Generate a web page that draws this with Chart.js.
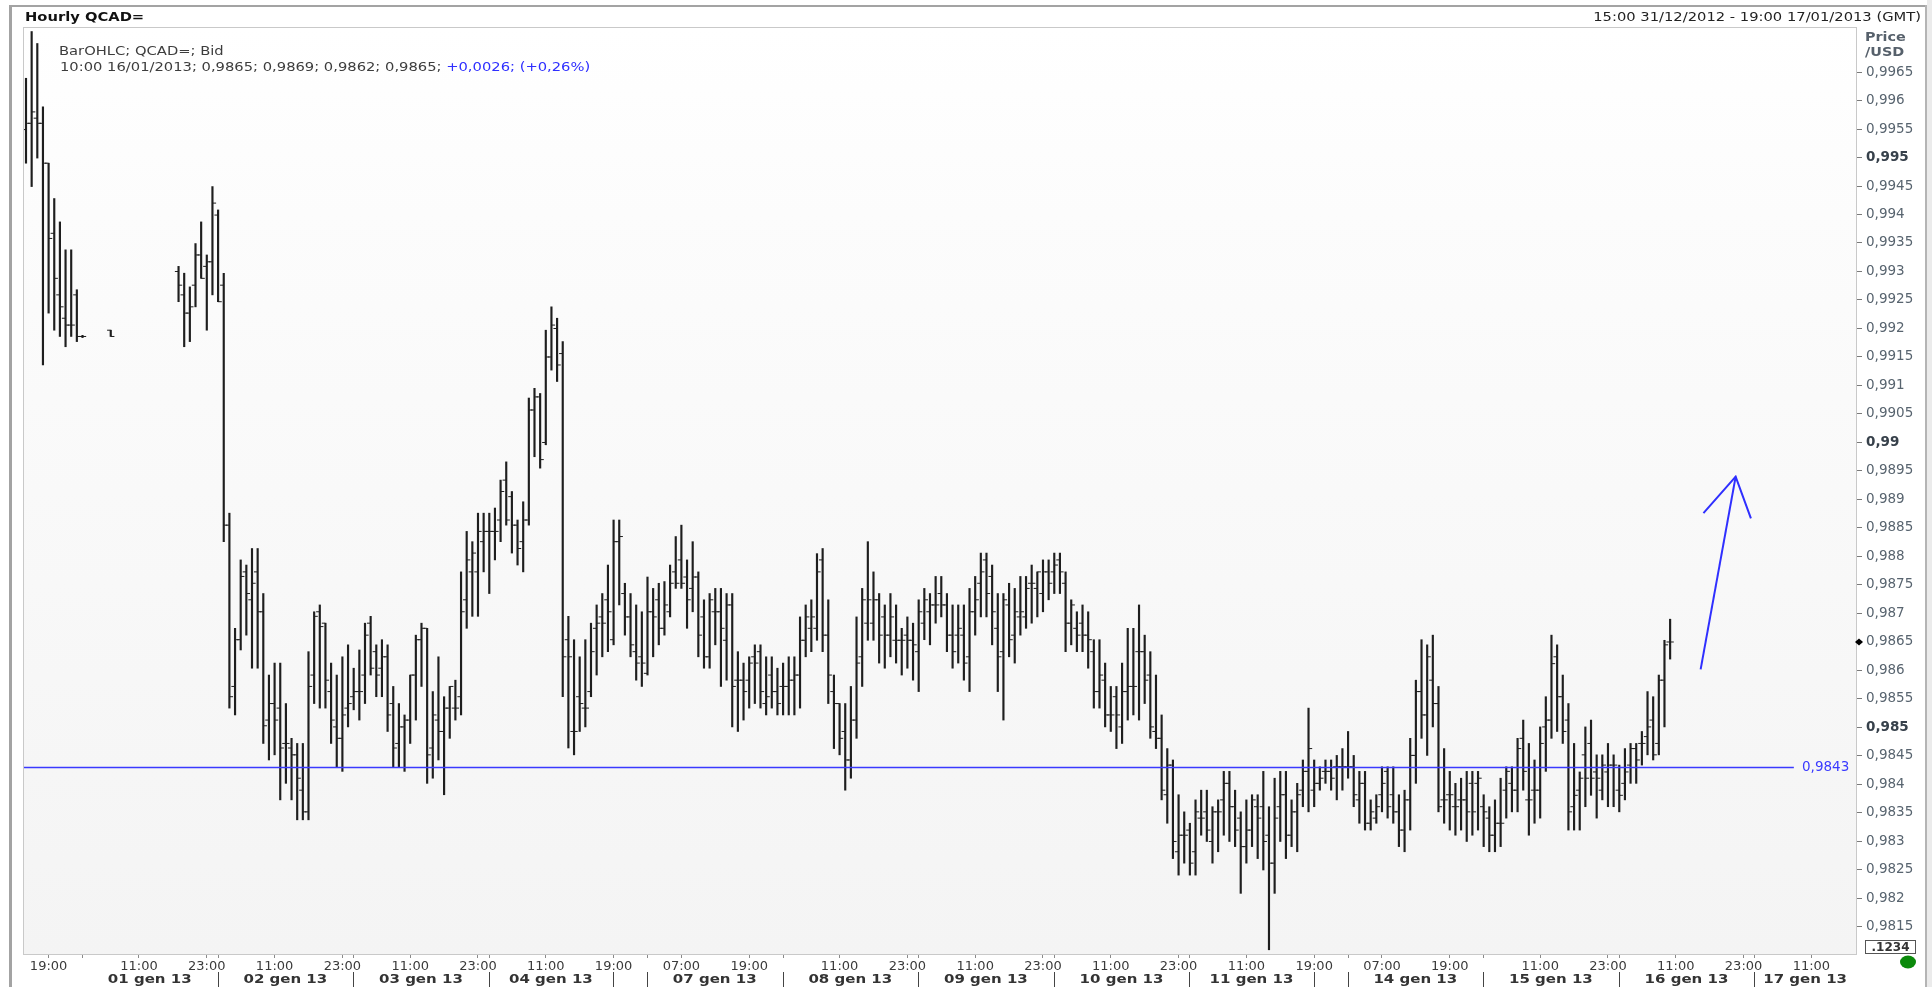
<!DOCTYPE html>
<html lang="it">
<head>
<meta charset="UTF-8">
<title>Hourly QCAD=</title>
<script src="https://cdn.jsdelivr.net/npm/chart.js@4.4.1/dist/chart.umd.min.js"></script>
<style>
  html, body { margin: 0; padding: 0; background: #fff; overflow: hidden; }
  canvas { display: block; }
</style>
</head>
<body>
<canvas id="chart" width="1932" height="987"></canvas>
<script>
// hourly bars: index = hour slot counted from 15:00 31/12/2012 (weekend hours left out), null = no quote
const open = [
  0.99549, 0.99560, 0.99569, 0.99560, 0.99490, 0.99367, 0.99259, 0.99218, 0.99206, 0.99259,
  0.99186, null, null, null, null, 0.99197, null, null, null, null,
  null, null, null, null, null, null, null, 0.99300, 0.99259, 0.99227,
  0.99276, 0.99329, 0.99309, 0.99317, 0.99399, 0.99276, 0.98855, 0.98572, 0.98654, 0.98773,
  0.98724, 0.98773, 0.98703, 0.98513, 0.98542, 0.98534, 0.98472, 0.98464, 0.98452, 0.98390,
  0.98352, 0.98592, 0.98703, 0.98683, 0.98563, 0.98501, 0.98481, 0.98534, 0.98554, 0.98563,
  0.98592, 0.98683, 0.98633, 0.98604, 0.98624, 0.98542, 0.98472, 0.98501, 0.98513, 0.98592,
  0.98654, 0.98674, 0.98464, 0.98513, 0.98493, 0.98534, 0.98534, 0.98554, 0.98724, 0.98773,
  0.98773, 0.98826, 0.98844, 0.98844, 0.98864, 0.98934, 0.98905, 0.98855, 0.98826, 0.98864,
  0.99057, 0.99080, 0.99000, 0.99150, 0.99200, 0.99156, 0.98654, 0.98493, 0.98554, 0.98534,
  0.98563, 0.98674, 0.98694, 0.98724, 0.98654, 0.98826, 0.98735, 0.98694, 0.98633, 0.98624,
  0.98595, 0.98703, 0.98724, 0.98674, 0.98703, 0.98773, 0.98794, 0.98764, 0.98744, 0.98764,
  0.98694, 0.98624, 0.98703, 0.98703, 0.98653, 0.98715, 0.98583, 0.98583, 0.98583, 0.98624,
  0.98633, 0.98542, 0.98592, 0.98563, 0.98572, 0.98572, 0.98583, 0.98592, 0.98653, 0.98674,
  0.98674, 0.98794, 0.98662, 0.98563, 0.98542, 0.98493, 0.98443, 0.98513, 0.98624, 0.98683,
  0.98683, 0.98724, 0.98694, 0.98662, 0.98653, 0.98653, 0.98662, 0.98653, 0.98633, 0.98683,
  0.98703, 0.98715, 0.98735, 0.98715, 0.98662, 0.98662, 0.98662, 0.98624, 0.98703, 0.98753,
  0.98794, 0.98765, 0.98674, 0.98633, 0.98715, 0.98662, 0.98694, 0.98694, 0.98753, 0.98744,
  0.98735, 0.98773, 0.98773, 0.98794, 0.98753, 0.98683, 0.98674, 0.98683, 0.98662, 0.98633,
  0.98563, 0.98583, 0.98522, 0.98554, 0.98501, 0.98563, 0.98572, 0.98633, 0.98633, 0.98592,
  0.98493, 0.98481, 0.98382, 0.98434, 0.98282, 0.98311, 0.98320, 0.98282, 0.98341, 0.98352,
  0.98300, 0.98352, 0.98373, 0.98402, 0.98361, 0.98341, 0.98291, 0.98320, 0.98361, 0.98361,
  0.98311, 0.98262, 0.98361, 0.98382, 0.98311, 0.98352, 0.98390, 0.98423, 0.98390, 0.98402,
  0.98423, 0.98423, 0.98431, 0.98431, 0.98431, 0.98431, 0.98373, 0.98402, 0.98332, 0.98341,
  0.98382, 0.98423, 0.98382, 0.98352, 0.98320, 0.98373, 0.98451, 0.98563, 0.98522, 0.98583,
  0.98542, 0.98373, 0.98382, 0.98361, 0.98373, 0.98373, 0.98402, 0.98402, 0.98361, 0.98341,
  0.98311, 0.98332, 0.98390, 0.98402, 0.98390, 0.98481, 0.98373, 0.98390, 0.98390, 0.98501,
  0.98513, 0.98624, 0.98554, 0.98513, 0.98361, 0.98390, 0.98452, 0.98472, 0.98422, 0.98390,
  0.98422, 0.98434, 0.98390, 0.98402, 0.98434, 0.98463, 0.98472, 0.98484, 0.98513, 0.98472,
  0.98583, 0.9865
];
const high = [
  0.99639, 0.99721, 0.99700, 0.99589, 0.99490, 0.99428, 0.99387, 0.99338, 0.99338, 0.99268,
  0.99188, null, null, null, null, 0.99197, null, null, null, null,
  null, null, null, null, null, null, null, 0.99309, 0.99297, 0.99273,
  0.99349, 0.99387, 0.99329, 0.99449, 0.99408, 0.99297, 0.98876, 0.98674, 0.98794, 0.98785,
  0.98814, 0.98814, 0.98735, 0.98592, 0.98613, 0.98613, 0.98542, 0.98481, 0.98472, 0.98472,
  0.98633, 0.98703, 0.98715, 0.98683, 0.98613, 0.98592, 0.98624, 0.98645, 0.98604, 0.98636,
  0.98683, 0.98695, 0.98645, 0.98654, 0.98645, 0.98572, 0.98542, 0.98522, 0.98592, 0.98662,
  0.98683, 0.98674, 0.98563, 0.98624, 0.98554, 0.98572, 0.98583, 0.98773, 0.98844, 0.98826,
  0.98876, 0.98876, 0.98876, 0.98885, 0.98934, 0.98966, 0.98914, 0.98864, 0.98896, 0.99078,
  0.99095, 0.99086, 0.99197, 0.99238, 0.99218, 0.99177, 0.98695, 0.98654, 0.98624, 0.98654,
  0.98683, 0.98715, 0.98735, 0.98785, 0.98864, 0.98864, 0.98753, 0.98735, 0.98715, 0.98703,
  0.98764, 0.98744, 0.98753, 0.98756, 0.98785, 0.98835, 0.98855, 0.98794, 0.98826, 0.98773,
  0.98724, 0.98735, 0.98744, 0.98744, 0.98735, 0.98735, 0.98633, 0.98613, 0.98624, 0.98645,
  0.98645, 0.98624, 0.98624, 0.98604, 0.98613, 0.98624, 0.98624, 0.98694, 0.98715, 0.98724,
  0.98805, 0.98814, 0.98724, 0.98592, 0.98542, 0.98542, 0.98572, 0.98694, 0.98744, 0.98826,
  0.98773, 0.98735, 0.98715, 0.98735, 0.98715, 0.98674, 0.98694, 0.98683, 0.98724, 0.98744,
  0.98735, 0.98765, 0.98765, 0.98735, 0.98715, 0.98715, 0.98715, 0.98744, 0.98765, 0.98806,
  0.98806, 0.98785, 0.98735, 0.98735, 0.98753, 0.98744, 0.98765, 0.98765, 0.98785, 0.98773,
  0.98794, 0.98794, 0.98806, 0.98806, 0.98773, 0.98724, 0.98703, 0.98715, 0.98703, 0.98654,
  0.98654, 0.98613, 0.98572, 0.98572, 0.98613, 0.98674, 0.98674, 0.98715, 0.98662, 0.98633,
  0.98592, 0.98522, 0.98463, 0.98443, 0.98382, 0.98352, 0.98332, 0.98373, 0.98390, 0.98390,
  0.98361, 0.98373, 0.98423, 0.98423, 0.98390, 0.98352, 0.98373, 0.98382, 0.98382, 0.98423,
  0.98361, 0.98411, 0.98423, 0.98423, 0.98373, 0.98402, 0.98443, 0.98534, 0.98443, 0.98431,
  0.98443, 0.98443, 0.98451, 0.98463, 0.98493, 0.98451, 0.98423, 0.98423, 0.98373, 0.98382,
  0.98431, 0.98431, 0.98431, 0.98382, 0.98390, 0.98481, 0.98583, 0.98654, 0.98645, 0.98662,
  0.98572, 0.98463, 0.98423, 0.98402, 0.98411, 0.98423, 0.98423, 0.98423, 0.98382, 0.98361,
  0.98373, 0.98411, 0.98431, 0.98431, 0.98481, 0.98513, 0.98472, 0.98443, 0.98501, 0.98554,
  0.98662, 0.98645, 0.98592, 0.98542, 0.98472, 0.98422, 0.98501, 0.98513, 0.98452, 0.98452,
  0.98472, 0.98452, 0.98434, 0.98463, 0.98472, 0.98472, 0.98493, 0.98563, 0.98554, 0.98592,
  0.98653, 0.9869
];
const low = [
  0.99490, 0.99449, 0.99499, 0.99136, 0.99227, 0.99197, 0.99186, 0.99168, 0.99186, 0.99177,
  0.99184, null, null, null, null, 0.99186, null, null, null, null,
  null, null, null, null, null, null, null, 0.99247, 0.99168, 0.99177,
  0.99238, 0.99288, 0.99197, 0.99259, 0.99247, 0.98826, 0.98534, 0.98522, 0.98636, 0.98662,
  0.98604, 0.98604, 0.98472, 0.98443, 0.98452, 0.98373, 0.98402, 0.98373, 0.98338, 0.98338,
  0.98338, 0.98542, 0.98534, 0.98534, 0.98472, 0.98431, 0.98423, 0.98501, 0.98531, 0.98513,
  0.98542, 0.98592, 0.98554, 0.98554, 0.98493, 0.98431, 0.98431, 0.98423, 0.98472, 0.98513,
  0.98572, 0.98402, 0.98411, 0.98443, 0.98382, 0.98481, 0.98513, 0.98522, 0.98674, 0.98695,
  0.98695, 0.98773, 0.98735, 0.98794, 0.98826, 0.98855, 0.98806, 0.98785, 0.98773, 0.98855,
  0.98975, 0.98955, 0.98996, 0.99127, 0.99107, 0.98554, 0.98464, 0.98452, 0.98493, 0.98501,
  0.98554, 0.98592, 0.98624, 0.98633, 0.98645, 0.98715, 0.98662, 0.98624, 0.98583, 0.98572,
  0.98592, 0.98624, 0.98645, 0.98662, 0.98694, 0.98744, 0.98744, 0.98674, 0.98703, 0.98624,
  0.98604, 0.98604, 0.98645, 0.98572, 0.98583, 0.98501, 0.98493, 0.98513, 0.98534, 0.98542,
  0.98534, 0.98522, 0.98534, 0.98522, 0.98522, 0.98522, 0.98522, 0.98534, 0.98624, 0.98633,
  0.98653, 0.98633, 0.98542, 0.98463, 0.98452, 0.98390, 0.98411, 0.98481, 0.98572, 0.98653,
  0.98653, 0.98613, 0.98604, 0.98624, 0.98613, 0.98592, 0.98604, 0.98583, 0.98563, 0.98654,
  0.98645, 0.98683, 0.98694, 0.98633, 0.98604, 0.98613, 0.98583, 0.98563, 0.98662, 0.98694,
  0.98694, 0.98645, 0.98563, 0.98513, 0.98624, 0.98613, 0.98662, 0.98674, 0.98683, 0.98694,
  0.98703, 0.98724, 0.98735, 0.98735, 0.98633, 0.98645, 0.98633, 0.98633, 0.98604, 0.98534,
  0.98534, 0.98501, 0.98493, 0.98463, 0.98472, 0.98513, 0.98522, 0.98513, 0.98542, 0.98481,
  0.98463, 0.98373, 0.98332, 0.98270, 0.98241, 0.98262, 0.98241, 0.98241, 0.98311, 0.98300,
  0.98262, 0.98282, 0.98311, 0.98300, 0.98291, 0.98209, 0.98262, 0.98291, 0.98270, 0.98250,
  0.98110, 0.98209, 0.98300, 0.98270, 0.98291, 0.98282, 0.98361, 0.98352, 0.98361, 0.98390,
  0.98402, 0.98390, 0.98373, 0.98390, 0.98411, 0.98361, 0.98332, 0.98320, 0.98320, 0.98332,
  0.98352, 0.98341, 0.98332, 0.98291, 0.98282, 0.98320, 0.98402, 0.98481, 0.98451, 0.98501,
  0.98352, 0.98332, 0.98320, 0.98311, 0.98320, 0.98300, 0.98311, 0.98320, 0.98291, 0.98282,
  0.98282, 0.98291, 0.98341, 0.98352, 0.98352, 0.98390, 0.98311, 0.98332, 0.98341, 0.98423,
  0.98481, 0.98493, 0.98472, 0.98320, 0.98320, 0.98320, 0.98361, 0.98381, 0.98341, 0.98373,
  0.98361, 0.98361, 0.98352, 0.98373, 0.98402, 0.98402, 0.98434, 0.98452, 0.98443, 0.98452,
  0.98501, 0.9862
];
const close = [
  0.99560, 0.99580, 0.99560, 0.99490, 0.99358, 0.99288, 0.99238, 0.99206, 0.99206, 0.99186,
  0.99186, null, null, null, null, 0.99186, null, null, null, null,
  null, null, null, null, null, null, null, 0.99276, 0.99227, 0.99238,
  0.99329, 0.99288, 0.99317, 0.99420, 0.99247, 0.98855, 0.98554, 0.98654, 0.98765, 0.98735,
  0.98753, 0.98703, 0.98503, 0.98542, 0.98513, 0.98464, 0.98472, 0.98452, 0.98411, 0.98352,
  0.98572, 0.98695, 0.98677, 0.98583, 0.98513, 0.98481, 0.98522, 0.98542, 0.98563, 0.98563,
  0.98662, 0.98604, 0.98592, 0.98624, 0.98522, 0.98464, 0.98501, 0.98513, 0.98592, 0.98654,
  0.98674, 0.98452, 0.98522, 0.98493, 0.98534, 0.98572, 0.98534, 0.98703, 0.98794, 0.98806,
  0.98844, 0.98844, 0.98844, 0.98844, 0.98914, 0.98864, 0.98855, 0.98814, 0.98864, 0.99057,
  0.99080, 0.98970, 0.99150, 0.99206, 0.99136, 0.98624, 0.98624, 0.98493, 0.98542, 0.98534,
  0.98633, 0.98683, 0.98683, 0.98703, 0.98826, 0.98835, 0.98694, 0.98645, 0.98613, 0.98613,
  0.98703, 0.98694, 0.98674, 0.98715, 0.98753, 0.98753, 0.98753, 0.98724, 0.98764, 0.98662,
  0.98624, 0.98724, 0.98703, 0.98674, 0.98715, 0.98572, 0.98583, 0.98563, 0.98613, 0.98613,
  0.98563, 0.98554, 0.98563, 0.98542, 0.98572, 0.98583, 0.98592, 0.98653, 0.98694, 0.98694,
  0.98773, 0.98662, 0.98592, 0.98542, 0.98481, 0.98443, 0.98513, 0.98613, 0.98724, 0.98724,
  0.98724, 0.98662, 0.98662, 0.98694, 0.98653, 0.98653, 0.98653, 0.98645, 0.98703, 0.98724,
  0.98715, 0.98715, 0.98715, 0.98662, 0.98633, 0.98674, 0.98613, 0.98703, 0.98724, 0.98773,
  0.98735, 0.98703, 0.98624, 0.98724, 0.98654, 0.98703, 0.98703, 0.98744, 0.98753, 0.98773,
  0.98773, 0.98753, 0.98785, 0.98773, 0.98683, 0.98715, 0.98662, 0.98662, 0.98654, 0.98563,
  0.98592, 0.98522, 0.98522, 0.98522, 0.98563, 0.98572, 0.98572, 0.98633, 0.98583, 0.98501,
  0.98481, 0.98390, 0.98434, 0.98300, 0.98311, 0.98311, 0.98262, 0.98352, 0.98341, 0.98320,
  0.98352, 0.98352, 0.98402, 0.98361, 0.98320, 0.98291, 0.98320, 0.98373, 0.98341, 0.98300,
  0.98262, 0.98341, 0.98382, 0.98311, 0.98352, 0.98382, 0.98423, 0.98463, 0.98402, 0.98411,
  0.98423, 0.98411, 0.98431, 0.98431, 0.98431, 0.98382, 0.98402, 0.98332, 0.98352, 0.98361,
  0.98402, 0.98361, 0.98352, 0.98320, 0.98373, 0.98451, 0.98563, 0.98522, 0.98624, 0.98542,
  0.98361, 0.98373, 0.98382, 0.98361, 0.98373, 0.98352, 0.98352, 0.98411, 0.98352, 0.98311,
  0.98332, 0.98332, 0.98423, 0.98390, 0.98463, 0.98423, 0.98373, 0.98390, 0.98472, 0.98513,
  0.98612, 0.98554, 0.98493, 0.98352, 0.98381, 0.98411, 0.98411, 0.98411, 0.98411, 0.98434,
  0.98434, 0.98434, 0.98381, 0.98422, 0.98463, 0.98443, 0.98472, 0.98501, 0.98452, 0.98583,
  0.98645, 0.9865
];

// time axis labels, placed on hour slots
const timeTickSlots = [4, 20, 32, 44, 56, 68, 80, 92, 104, 116, 128, 144, 156, 168, 180, 192, 204, 216, 228, 240, 252, 268, 280, 292, 304, 316];
const timeTickLabels = ['19:00', '11:00', '23:00', '11:00', '23:00', '11:00', '23:00', '11:00', '19:00', '07:00', '19:00', '11:00', '23:00',
  '11:00', '23:00', '11:00', '23:00', '11:00', '19:00', '07:00', '19:00', '11:00', '23:00', '11:00', '23:00', '11:00'];

// trading days on the axis (slot where each day starts / ends)
const dayLabels = ['01 gen 13', '02 gen 13', '03 gen 13', '04 gen 13', '07 gen 13', '08 gen 13', '09 gen 13',
  '10 gen 13', '11 gen 13', '14 gen 13', '15 gen 13', '16 gen 13', '17 gen 13'];
const dayStart = [9.9, 33.9, 57.9, 81.9, 109.9, 133.9, 157.9, 181.9, 205.9, 233.9, 257.9, 281.9, 305.9];
const dayEnd = [33.9, 57.9, 81.9, 103.9, 133.9, 157.9, 181.9, 205.9, 227.9, 257.9, 281.9, 305.9, 323.9];

const priceTicks = [0.9815, 0.982, 0.9825, 0.983, 0.9835, 0.984, 0.9845, 0.985, 0.9855, 0.986, 0.9865,
  0.987, 0.9875, 0.988, 0.9885, 0.989, 0.9895, 0.99, 0.9905, 0.991, 0.9915, 0.992, 0.9925, 0.993,
  0.9935, 0.994, 0.9945, 0.995, 0.9955, 0.996, 0.9965];
const boldPrices = [0.985, 0.99, 0.995];

const refLevel = 0.9843;
const refLevelEnd = 312.9;
const arrowShaft = [{ x: 296.4, y: 0.98602 }, { x: 302.6, y: 0.9894 }];
const arrowHead = [{ x: 296.9, y: 0.98876 }, { x: 302.6, y: 0.9894 }, { x: 305.3, y: 0.98867 }];

const lastBarTime = '10:00 16/01/2013';
const changeText = '+0,0026; (+0,26%)';

const xMin = -0.354, xMax = 323.9;
const yMin = 0.981026, yMax = 0.997272;
const FONT = '"DejaVu Sans"';

const fmtPrice = v => String(Number(v.toFixed(4))).replace('.', ',');
const isBold = v => boldPrices.some(b => Math.abs(b - v) < 1e-7);

const hlBars = [], openTicks = [], closeTicks = [];
for (let i = 0; i < high.length; i++) {
  if (high[i] == null) continue;
  hlBars.push({ x: i, y: [low[i], high[i]] });
  openTicks.push({ x: i - 0.33, y: open[i] });
  closeTicks.push({ x: i + 0.33, y: close[i] });
}

function stretchText(ctx, s, x, y, opt) {
  ctx.save();
  ctx.font = opt.font;
  ctx.fillStyle = opt.color;
  ctx.textBaseline = 'middle';
  ctx.textAlign = 'left';
  const sx = opt.sx || 1;
  const w = ctx.measureText(s).width * sx;
  let x0 = x;
  if (opt.align === 'right') x0 = x - w;
  else if (opt.align === 'center') x0 = x - w / 2;
  ctx.translate(x0, y);
  ctx.scale(sx, 1);
  ctx.fillText(s, 0, 0);
  ctx.restore();
  return w;
}

const decor = {
  id: 'decor',
  beforeDraw(chart) {
    const { ctx, chartArea: a } = chart;
    ctx.save();
    ctx.fillStyle = '#ffffff';
    ctx.fillRect(0, 0, chart.width, chart.height);
    ctx.fillStyle = '#ebebeb';
    ctx.fillRect(1927, 0, chart.width - 1927, chart.height);
    const g = ctx.createLinearGradient(0, a.top, 0, a.bottom);
    g.addColorStop(0, '#ffffff');
    g.addColorStop(0.2, '#fcfcfc');
    g.addColorStop(1, '#f4f4f4');
    ctx.fillStyle = g;
    ctx.fillRect(a.left, a.top, a.right - a.left, a.bottom - a.top);
    ctx.restore();
  },
  afterDraw(chart) {
    const { ctx, chartArea: a, scales: { x, y } } = chart;
    ctx.save();

    // window frame
    ctx.fillStyle = '#a3a3a3';
    ctx.fillRect(9, 5, 1918, 2);
    ctx.fillRect(9, 5, 3, chart.height - 5);
    ctx.fillStyle = '#b4b4b4';
    ctx.fillRect(1925, 5, 2, chart.height - 5);

    // plot border
    ctx.strokeStyle = '#c9c9c9';
    ctx.lineWidth = 1;
    ctx.strokeRect(a.left - 0.5, a.top - 0.5, a.right - a.left + 1, a.bottom - a.top + 1);

    // titles
    stretchText(ctx, 'Hourly QCAD=', 25, 18, { font: `bold 11.5px ${FONT}`, color: '#111', sx: 1.28 });
    stretchText(ctx, '15:00 31/12/2012 - 19:00 17/01/2013 (GMT)', 1921, 18,
      { font: `11.5px ${FONT}`, color: '#222', sx: 1.28, align: 'right' });

    // legend
    const last = close.length - 1;
    stretchText(ctx, 'BarOHLC; QCAD=; Bid', 59, 52, { font: `11.5px ${FONT}`, color: '#3d3d3d', sx: 1.28 });
    const ohlc = `${lastBarTime}; ${fmtPrice(open[last])}; ${fmtPrice(high[last])}; ${fmtPrice(low[last])}; ${fmtPrice(close[last])}; `;
    const w = stretchText(ctx, ohlc, 60, 68, { font: `11.5px ${FONT}`, color: '#3d3d3d', sx: 1.28 });
    stretchText(ctx, changeText, 60 + w, 68, { font: `11.5px ${FONT}`, color: '#2f2fff', sx: 1.28 });

    // price axis title
    stretchText(ctx, 'Price', 1865, 38, { font: `bold 11.5px ${FONT}`, color: '#56606b', sx: 1.25 });
    stretchText(ctx, '/USD', 1865, 53, { font: `bold 11.5px ${FONT}`, color: '#56606b', sx: 1.25 });

    // day boundaries, separators and date labels
    const bounds = [...new Set([...dayStart, ...dayEnd.slice(0, -1)])];
    ctx.strokeStyle = '#8a8a8a';
    bounds.forEach(b => {
      const px = Math.round(x.getPixelForValue(b)) + 0.5;
      ctx.beginPath(); ctx.moveTo(px, a.bottom + 1); ctx.lineTo(px, a.bottom + 4); ctx.stroke();
    });
    ctx.strokeStyle = '#444';
    bounds.filter(b => b > dayStart[0]).forEach(b => {
      const px = Math.round(x.getPixelForValue(b)) + 0.5;
      ctx.beginPath(); ctx.moveTo(px, 972); ctx.lineTo(px, chart.height); ctx.stroke();
    });
    dayLabels.forEach((lab, i) => {
      const cx = (x.getPixelForValue(dayStart[i]) + x.getPixelForValue(dayEnd[i])) / 2;
      stretchText(ctx, lab, cx, 980, { font: `bold 12px ${FONT}`, color: '#333', sx: 1.25, align: 'center' });
    });

    // last price marker
    const cy = y.getPixelForValue(close[last]);
    const cx = a.right + 3;
    ctx.fillStyle = '#000';
    ctx.beginPath();
    ctx.moveTo(cx - 4, cy); ctx.lineTo(cx, cy - 3.5); ctx.lineTo(cx + 4, cy); ctx.lineTo(cx, cy + 3.5);
    ctx.closePath(); ctx.fill();

    // reference level label
    stretchText(ctx, fmtPrice(refLevel), 1802, y.getPixelForValue(refLevel),
      { font: `13.5px ${FONT}`, color: '#3a3aff' });

    // small box and status dot
    ctx.strokeStyle = '#555';
    ctx.strokeRect(1865.5, 940.5, 50, 13);
    stretchText(ctx, '.1234', 1890.5, 947.5, { font: `bold 12px ${FONT}`, color: '#333', align: 'center' });
    ctx.fillStyle = '#0b8a0b';
    ctx.beginPath();
    ctx.ellipse(1908, 962, 8, 6.5, 0, 0, Math.PI * 2);
    ctx.fill();

    ctx.restore();
  }
};

new Chart(document.getElementById('chart'), {
  type: 'bar',
  data: {
    datasets: [
      {
        type: 'bar',
        data: hlBars,
        backgroundColor: '#1e1e1e',
        barThickness: 1.5,
        minBarLength: 1,
        order: 3
      },
      {
        type: 'scatter',
        data: openTicks,
        showLine: false,
        pointStyle: 'line',
        pointRadius: 1.8,
        pointHoverRadius: 0,
        borderColor: '#1e1e1e',
        pointBorderColor: '#1e1e1e',
        pointBorderWidth: 1,
        order: 2
      },
      {
        type: 'scatter',
        data: closeTicks,
        showLine: false,
        pointStyle: 'line',
        pointRadius: 1.8,
        pointHoverRadius: 0,
        borderColor: '#1e1e1e',
        pointBorderColor: '#1e1e1e',
        pointBorderWidth: 1,
        order: 2
      },
      {
        type: 'line',
        data: [{ x: xMin, y: refLevel }, { x: refLevelEnd, y: refLevel }],
        borderColor: '#3a3aff',
        borderWidth: 1.5,
        pointRadius: 0,
        fill: false,
        order: 1
      },
      {
        type: 'line',
        data: arrowShaft,
        borderColor: '#2f2fff',
        borderWidth: 2,
        pointRadius: 0,
        fill: false,
        order: 0
      },
      {
        type: 'line',
        data: arrowHead,
        borderColor: '#2f2fff',
        borderWidth: 2,
        pointRadius: 0,
        fill: false,
        order: 0
      }
    ]
  },
  options: {
    responsive: false,
    animation: false,
    devicePixelRatio: 1,
    events: [],
    layout: { padding: { left: 24, top: 28, right: 0, bottom: 0 } },
    plugins: { legend: { display: false }, tooltip: { enabled: false } },
    scales: {
      x: {
        type: 'linear',
        min: xMin,
        max: xMax,
        offset: false,
        grid: { drawOnChartArea: false, offset: false, tickLength: 4, tickColor: '#8a8a8a' },
        border: { display: false },
        afterBuildTicks: s => { s.ticks = timeTickSlots.map(v => ({ value: v })); },
        afterFit: s => { s.height = 33; },
        ticks: {
          autoSkip: false,
          maxRotation: 0,
          padding: 1,
          color: '#3a3a3a',
          font: { family: 'DejaVu Sans', size: 13 },
          callback: (v, i) => timeTickLabels[i]
        }
      },
      y: {
        type: 'linear',
        position: 'right',
        min: yMin,
        max: yMax,
        grid: { drawOnChartArea: false, tickLength: 6, tickColor: '#7a7a7a' },
        border: { display: false },
        afterBuildTicks: s => { s.ticks = priceTicks.map(v => ({ value: v })); },
        afterFit: s => { s.width = 76; },
        ticks: {
          autoSkip: false,
          padding: 4,
          font: c => ({ family: 'DejaVu Sans', size: 13.5, weight: c.tick && isBold(c.tick.value) ? 'bold' : 'normal' }),
          color: c => (c.tick && isBold(c.tick.value) ? '#37414b' : '#58646f'),
          callback: v => fmtPrice(v)
        }
      }
    }
  },
  plugins: [decor]
});
</script>
</body>
</html>
